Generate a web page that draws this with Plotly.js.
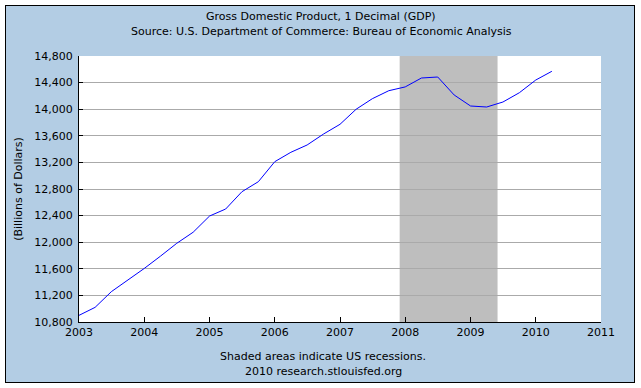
<!DOCTYPE html>
<html>
<head>
<meta charset="utf-8">
<script src="https://cdn.plot.ly/plotly-3.0.1.min.js"></script>
<style>
  html, body { margin: 0; padding: 0; background: #ffffff; }
  #wrap { position: absolute; left: 5px; top: 5px; width: 628px; height: 376px; border: 1px solid #000; }
  #chart { width: 628px; height: 376px; }
</style>
</head>
<body>
<div id="wrap"><div id="chart"></div></div>
<script>
// Quarterly dates (start of quarter)
const quarters = [
  '2003-01-01','2003-04-01','2003-07-01','2003-10-01',
  '2004-01-01','2004-04-01','2004-07-01','2004-10-01',
  '2005-01-01','2005-04-01','2005-07-01','2005-10-01',
  '2006-01-01','2006-04-01','2006-07-01','2006-10-01',
  '2007-01-01','2007-04-01','2007-07-01','2007-10-01',
  '2008-01-01','2008-04-01','2008-07-01','2008-10-01',
  '2009-01-01','2009-04-01','2009-07-01','2009-10-01',
  '2010-01-01','2010-04-01'
];
// GDP, billions of dollars
const gdp = [
  10900, 11020, 11256, 11430,
  11605, 11790, 11983, 12150,
  12394, 12499, 12759, 12910,
  13211, 13352, 13462, 13627,
  13773, 13999, 14158, 14278,
  14335, 14469, 14484, 14214,
  14048, 14033, 14108, 14248,
  14439, 14570
];
const recessionStart = '2007-12-01';
const recessionEnd = '2009-06-01';
const yTicks = [10800, 11200, 11600, 12000, 12400, 12800, 13200, 13600, 14000, 14400, 14800];
const xTicks = ['2003-01-01','2004-01-01','2005-01-01','2006-01-01','2007-01-01','2008-01-01','2009-01-01','2010-01-01','2011-01-01'];
const xTickText = ['2003','2004','2005','2006','2007','2008','2009','2010','2011'];
const titleLines = ['Gross Domestic Product, 1 Decimal (GDP)', 'Source: U.S. Department of Commerce: Bureau of Economic Analysis'];
const notes = ['Shaded areas indicate US recessions.', '2010 research.stlouisfed.org'];

const font = 'DejaVu Sans, Verdana, sans-serif';
const bg = 'rgb(179,205,228)';
// convert a pixel row within the chart div to paper y
const py = (ydiv) => (316 - ydiv) / 266;
const px = (xdiv) => (xdiv - 73) / 522;
const txt = (s, xdiv, ydiv) => ({ text: s, xref: 'paper', yref: 'paper', x: px(xdiv), y: py(ydiv), xanchor: 'center', yanchor: 'middle', showarrow: false, font: { family: font, size: 11, color: '#000' } });

Plotly.newPlot('chart', [{
  x: quarters, y: gdp, type: 'scatter', mode: 'lines',
  line: { color: '#0000FF', width: 1 }, hoverinfo: 'skip'
}], {
  width: 628, height: 376,
  paper_bgcolor: bg, plot_bgcolor: '#ffffff',
  margin: { l: 73, r: 33, t: 50, b: 60 },
  showlegend: false,
  font: { family: font, size: 11, color: '#000' },
  xaxis: {
    type: 'date', range: ['2003-01-01', '2011-01-01'],
    tickvals: xTicks, ticktext: xTickText,
    ticks: 'inside', ticklen: 5, tickcolor: '#000', tickwidth: 1,
    showgrid: false, showline: true, linecolor: '#000', linewidth: 1,
    zeroline: false, fixedrange: true,
    tickfont: { family: font, size: 11, color: '#000' }
  },
  yaxis: {
    range: [10800, 14800], tickvals: yTicks, tickformat: ',d',
    ticks: 'inside', ticklen: 4, tickcolor: '#000',
    showgrid: true, gridcolor: '#AAAAAA', gridwidth: 1,
    showline: true, linecolor: '#000', linewidth: 1, zeroline: false,
    fixedrange: true, ticklabelstandoff: 3,
    tickfont: { family: font, size: 11, color: '#000' },
    title: { text: '(Billions of Dollars)', font: { family: font, size: 11, color: '#000' }, standoff: 9 }
  },
  shapes: [{
    type: 'rect', xref: 'x', yref: 'paper',
    x0: recessionStart, x1: recessionEnd, y0: 0, y1: 1,
    fillcolor: '#BEBEBE', line: { width: 0 }, layer: 'between'
  }],
  annotations: [
    txt(titleLines[0], 315, 10),
    txt(titleLines[1], 315, 25),
    txt(notes[0], 317, 350),
    txt(notes[1], 317, 365)
  ]
}, { displayModeBar: false, staticPlot: true });
</script>
</body>
</html>
